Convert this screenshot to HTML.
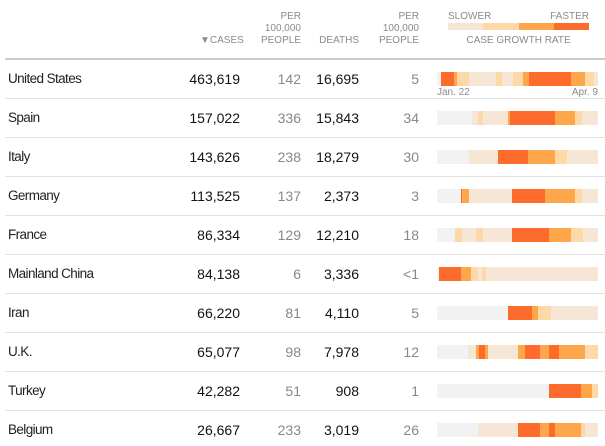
<!DOCTYPE html>
<html><head><meta charset="utf-8"><style>
body{margin:0;width:605px;height:446px;background:#fff;font-family:"Liberation Sans",Arial,sans-serif;position:relative;overflow:hidden}
.h{position:absolute;font-size:10px;color:#8a8a8a;text-align:right;line-height:12px}
.line{position:absolute;left:5px;width:600px;height:1px;background:#e2e2e2}
.t{position:absolute;font-size:14px;color:#121212;line-height:16px}
.n{font-size:13.5px;letter-spacing:-0.6px;color:#222}
.r{text-align:right}
.g{color:#888}
.bar{position:absolute;left:437px;width:161px;height:14px;display:flex}
.bar div{height:14px}
</style></head><body>
<div class="h" style="left:200px;width:40px;top:35px">▼CASES</div>
<div class="h" style="left:250px;width:51px;top:11px">PER<br>100,000<br>PEOPLE</div>
<div class="h" style="left:310px;width:49px;top:35px">DEATHS</div>
<div class="h" style="left:368px;width:51px;top:11px">PER<br>100,000<br>PEOPLE</div>
<div class="h" style="left:448px;top:11px;text-align:left">SLOWER</div>
<div class="h" style="left:540px;width:49px;top:11px">FASTER</div>
<div style="position:absolute;left:448px;top:23px;width:141px;height:7px;display:flex">
<div style="flex:1;background:#f6e6d6"></div><div style="flex:1;background:#fdd9a8"></div><div style="flex:1;background:#fda64a"></div><div style="flex:1;background:#fe6c2d"></div></div>
<div class="h" style="left:448px;width:141px;top:35px;text-align:center">CASE GROWTH RATE</div>
<div class="line" style="top:58px;height:2px;background:#ccc"></div>
<div id="rows"></div>
<div class="h" style="left:437px;top:87px;text-align:left;font-size:10px">Jan. 22</div>
<div class="h" style="left:550px;width:48px;top:87px;font-size:10px">Apr. 9</div>
<script>
var C={g:"#f2f2f2",p:"#f6e6d6",l:"#fdd9a8",o:"#fda64a",d:"#fe6c2d"};
var rows=[
["United States","463,619","142","16,695","5","g4 d13 o3 l12 p27 l6 p11 l10 o6 d42 o14 l9 p4"],
["Spain","157,022","336","15,843","34","g35 p6 l5 p25 o2 d45 o20 l7 p16"],
["Italy","143,626","238","18,279","30","g32 p29 d30 o27 l12 p31"],
["Germany","113,525","137","2,373","3","g24 d1 o7 p43 d33 o30 l7 p16"],
["France","86,334","129","12,210","18","g18 l7 p14 l7 p29 d37 o22 l12 p15"],
["Mainland China","84,138","6","3,336","<1","g2 d22 o10 l7 p4 l4 p112"],
["Iran","66,220","81","4,110","5","g71 d24 o6 l13 p47"],
["U.K.","65,077","98","7,978","12","g31 p8 o3 d6 o3 p30 o7 d15 o9 d10 o26 l13"],
["Turkey","42,282","51","908","1","g112 d32 o11 l6"],
["Belgium","26,667","233","3,019","26","g41 p40 d22 o9 d6 o26 l4 p13"]];
var h="";
rows.forEach(function(r,i){
var y=79+i*39;
h+='<div class="t n" style="left:8px;top:'+(y-8)+'px">'+r[0]+'</div>';
h+='<div class="t r" style="left:160px;width:80px;top:'+(y-8)+'px">'+r[1]+'</div>';
h+='<div class="t r g" style="left:250px;width:51px;top:'+(y-8)+'px">'+r[2]+'</div>';
h+='<div class="t r" style="left:300px;width:59px;top:'+(y-8)+'px">'+r[3]+'</div>';
h+='<div class="t r g" style="left:360px;width:59px;top:'+(y-8)+'px">'+r[4].replace("<","&lt;")+'</div>';
h+='<div class="bar" style="top:'+(y-7)+'px">';
r[5].split(" ").forEach(function(s){h+='<div style="width:'+s.slice(1)+'px;background:'+C[s[0]]+'"></div>';});
h+='</div>';
if(i<9)h+='<div class="line" style="top:'+(y+19)+'px"></div>';
});
document.getElementById("rows").innerHTML=h;
</script>
</body></html>
